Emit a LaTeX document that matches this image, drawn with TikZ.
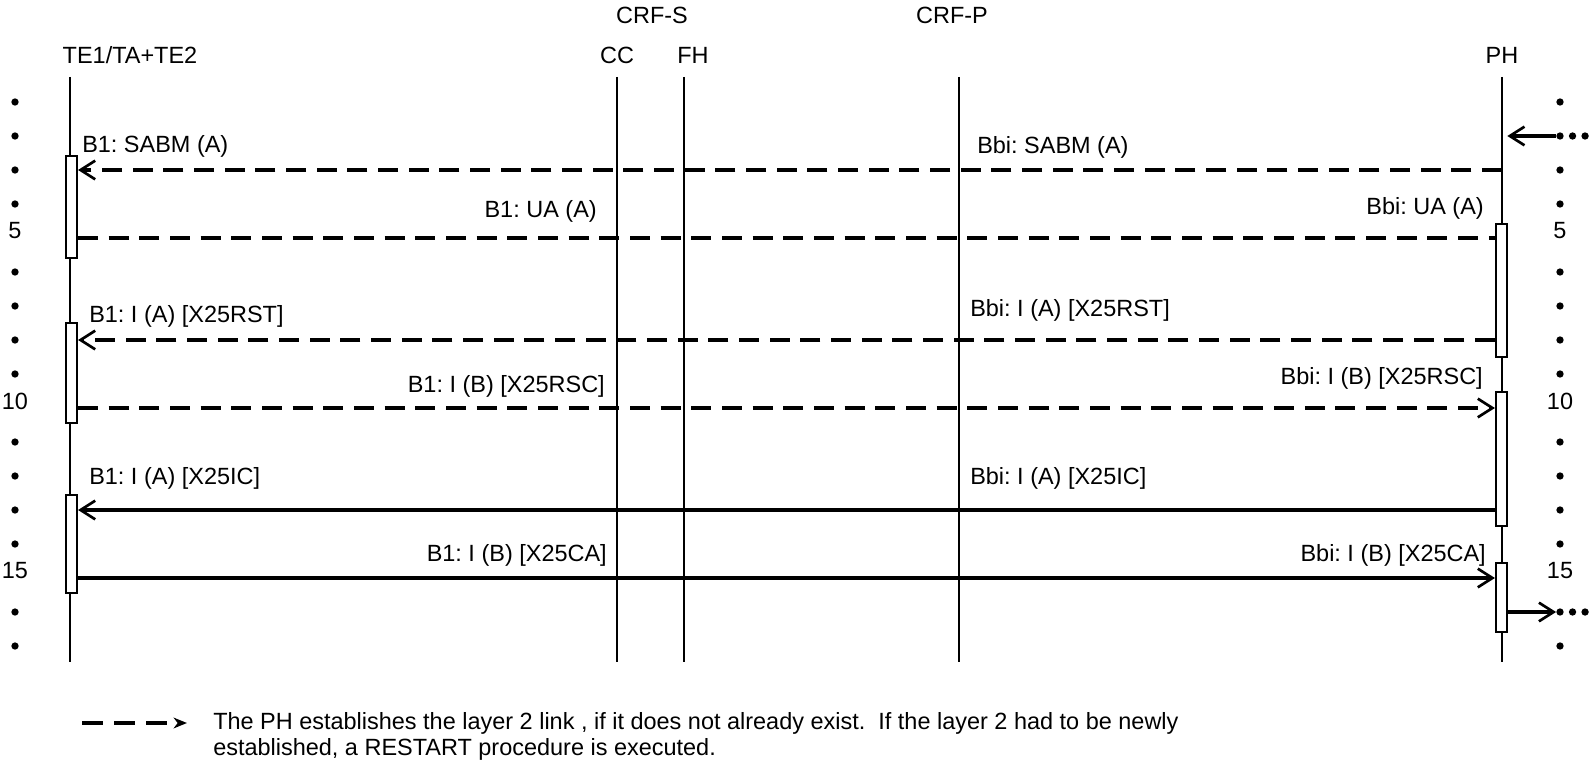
\documentclass[tikz,border=0pt]{standalone}
\usepackage{fontspec}
\setmainfont{Liberation Sans}
\usetikzlibrary{arrows.meta, positioning}
\frenchspacing

\begin{document}
\begin{tikzpicture}[
    x=0.75pt, y=-0.75pt,
    every node/.style={font=\fontsize{17.6pt}{20pt}\selectfont, inner sep=0pt},
    lifeline/.style={line width=1.7pt},
    act/.style={draw, rectangle, fill=white, line width=1.6pt, minimum width=8.25pt},
    msg/.style={line width=2.4pt},
    dmsg/.style={msg, dash pattern=on 15pt off 8pt},
    tip/.style={-{Straight Barb[length=11pt, width=14pt, line width=2pt]}},
    dot/.style={circle, fill, minimum size=5.5pt},
]
\useasboundingbox (0,0) rectangle (1595,763);

% Entities
\node (crfs) at (652,15) {CRF-S};
\node (crfp) at (952,15) {CRF-P};
\node (te1) at (130,55) {TE1/TA+TE2};
\node (cc) at (617,55) {CC};
\node (fh) at (693,55) {FH};
\node (ph) at (1502,55) {PH};

% Lifelines
\foreach \n/\x in {te1/70, cc/617, fh/684, crfp/959, ph/1502} {
  \coordinate (\n-top) at (\x,77);
  \coordinate (\n-bot) at (\x,662);
  \draw[lifeline] (\n-top) -- (\n-bot);
}

% Rows
\foreach \k in {1,...,17}
  \coordinate (r\k) at (0,{102+34*(\k-1)});
\foreach \k in {1,2,3,4,6,7,8,9,11,12,13,14,16,17} {
  \node[dot] (ldot\k) at (15,{102+34*(\k-1)}) {};
  \node[dot] (rdot\k) at (1560,{102+34*(\k-1)}) {};
}
\foreach \k in {5,10,15} {
  \node (lnum\k) at (15,{95+34*(\k-1)}) {\k};
  \node (rnum\k) at (1560,{95+34*(\k-1)}) {\k};
}
\node[dot, right=3.5pt of rdot2] (rdot2b) {};
\node[dot, right=3.5pt of rdot2b] (rdot2c) {};
\node[dot, right=3.5pt of rdot16] (rdot16b) {};
\node[dot, right=3.5pt of rdot16b] (rdot16c) {};

% Activation boxes
\node[act, minimum height=76.5pt] (ta1) at (71.5,207) {};
\node[act, minimum height=75pt] (ta2) at (71.5,373) {};
\node[act, minimum height=73.5pt] (ta3) at (71.5,544) {};
\node[act, minimum height=99.75pt] (pa1) at (1501.5,290.5) {};
\node[act, minimum height=100.5pt] (pa2) at (1501.5,459) {};
\node[act, minimum height=51.75pt] (pa3) at (1501.5,597.5) {};

% Messages
\draw[msg, tip, shorten >=4pt] (rdot2) -- (ph-top |- r2);
\draw[dmsg, tip] (ph-top |- r3) -- (ta1.east |- r3);
\draw[dmsg] (ta1.east |- r5) -- (pa1.west |- r5);
\draw[dmsg, tip] (pa1.west |- r8) -- (ta2.east |- r8);
\draw[dmsg, tip] (ta2.east |- r10) -- (pa2.west |- r10);
\draw[msg, tip] (pa2.west |- r13) -- (ta3.east |- r13);
\draw[msg, tip] (ta3.east |- r15) -- (pa3.west |- r15);
\draw[msg, tip] (pa3.east |- r16) -- (rdot16);

% Labels
\node[anchor=west] (b1sabm) at (82,146) {B1: SABM (A)};
\node[anchor=west] (bbisabm) at (977,147) {Bbi: SABM (A)};
\node[anchor=east] (b1ua) at (597,211) {B1: UA (A)};
\node[anchor=east] (bbiua) at (1484,208) {Bbi: UA (A)};
\node[anchor=west] (b1rst) at (89,316) {B1: I (A) [X25RST]};
\node[anchor=west] (bbirst) at (970,310) {Bbi: I (A) [X25RST]};
\node[anchor=east] (b1rsc) at (605,386) {B1: I (B) [X25RSC]};
\node[anchor=east] (bbirsc) at (1483,378) {Bbi: I (B) [X25RSC]};
\node[anchor=west] (b1ic) at (89,478) {B1: I (A) [X25IC]};
\node[anchor=west] (bbiic) at (970,478) {Bbi: I (A) [X25IC]};
\node[anchor=east] (b1ca) at (607,555) {B1: I (B) [X25CA]};
\node[anchor=east] (bbica) at (1486,555) {Bbi: I (B) [X25CA]};

% Legend
\coordinate (lgs) at (82,723);
\coordinate (lge) at (187,723);
\draw[msg, line width=2.5pt, dash pattern=on 15.5pt off 8.5pt, -{Stealth[length=10pt, width=8pt, inset=3pt]}] (lgs) -- (lge);
\node[anchor=north west, align=left] (legend) at (213,712) {The PH establishes the layer 2 link , if it does not already exist.\ \ If the layer 2 had to be newly\\established, a RESTART procedure is executed.};

\end{tikzpicture}
\end{document}
